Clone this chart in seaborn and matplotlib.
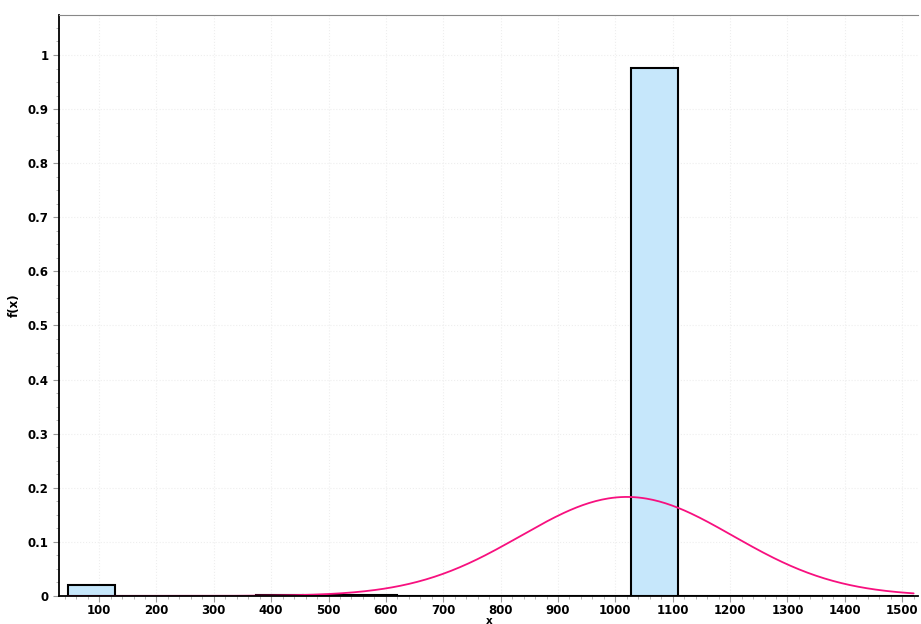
import numpy as np
import matplotlib
matplotlib.use("Agg")
import matplotlib.pyplot as plt
import seaborn as sns
from matplotlib.ticker import MultipleLocator, AutoMinorLocator, FuncFormatter

# histogram bins (relative frequency per bin)
bin_edges = [45, 127, 209, 291, 373, 455, 537, 619, 700, 782, 864,
             946, 1028, 1110, 1192, 1274, 1356, 1438, 1520]
bin_heights = [0.021, 0.0, 0.0, 0.0, 0.001, 0.001, 0.001, 0.0, 0.0, 0.0, 0.0,
               0.0, 0.976, 0.0, 0.0, 0.0, 0.0, 0.0]

# fitted normal curve parameters
fit_mean = 1020
fit_sigma = 185
fit_peak = 0.183

sns.set_style("white")
plt.rcParams['font.family'] = ['DejaVu Sans']

fig = plt.figure(figsize=(9.21, 6.24), dpi=100)
ax = fig.add_axes([0.064, 0.045, 0.933, 0.931])

centers = [(a + b) / 2 for a, b in zip(bin_edges[:-1], bin_edges[1:])]
sns.histplot(x=centers, weights=bin_heights, bins=bin_edges, stat="count",
             color="#C6E7FB", alpha=1, edgecolor="black", linewidth=1.5, ax=ax)

xs = np.linspace(bin_edges[0], bin_edges[-1], 400)
ys = fit_peak * np.exp(-0.5 * ((xs - fit_mean) / fit_sigma) ** 2)
sns.lineplot(x=xs, y=ys, color="#F7107F", linewidth=1.3, ax=ax)

ax.set_xlim(30, 1528)
ax.set_ylim(0, 1.074)
ax.xaxis.set_major_locator(MultipleLocator(100))
ax.yaxis.set_major_locator(MultipleLocator(0.1))
ax.xaxis.set_minor_locator(AutoMinorLocator(5))
ax.yaxis.set_minor_locator(AutoMinorLocator(4))
ax.yaxis.set_major_formatter(FuncFormatter(lambda v, p: f"{v:g}"))
ax.grid(True, which="major", color="#eeeeee", linestyle=":", linewidth=0.8)
ax.set_axisbelow(True)

ax.tick_params(axis="both", which="major", labelsize=8.5, length=4,
               color="#999999", labelcolor="black", direction="out",
               left=True, bottom=True)
ax.tick_params(axis="x", which="major", pad=2)
ax.tick_params(axis="both", which="minor", length=2, color="#aaaaaa",
               direction="out", left=True, bottom=True)
for lab in ax.get_xticklabels() + ax.get_yticklabels():
    lab.set_fontweight("bold")

for s in ["left", "bottom"]:
    ax.spines[s].set_color("black")
    ax.spines[s].set_linewidth(1.3)
ax.spines["top"].set_color("#888888")
ax.spines["right"].set_visible(False)

ax.set_xlabel("x", fontsize=7.5, fontweight="bold", color="black")
ax.set_ylabel("f(x)", fontsize=8.5, fontweight="bold", color="black")
ax.xaxis.set_label_coords(0.501, -0.035)
ax.xaxis.label.set_verticalalignment("top")
ax.yaxis.set_label_coords(-0.045, 0.5)

fig.savefig("out.png", dpi=100)
